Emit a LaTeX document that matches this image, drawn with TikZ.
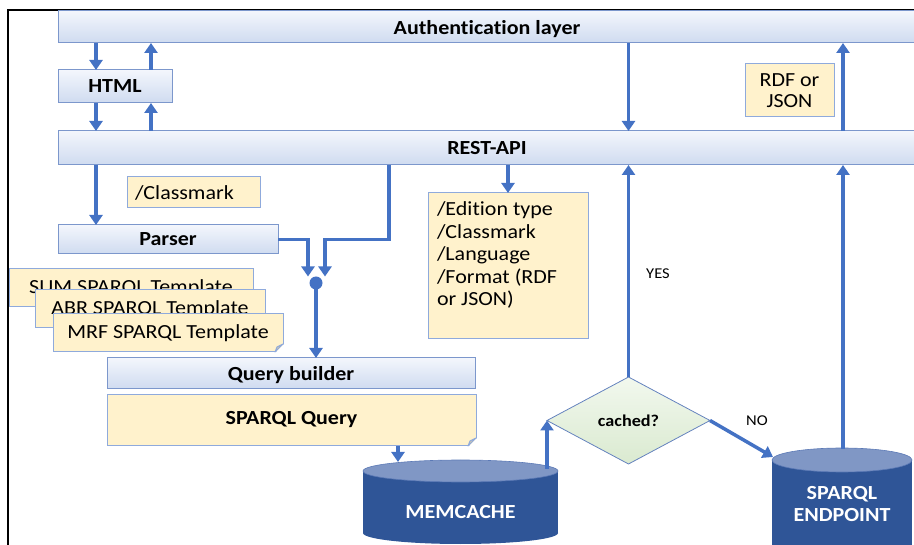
\documentclass[tikz,border=0pt]{standalone}
\usepackage{fontspec}
\setmainfont{Carlito}[FakeStretch=1.1, Ligatures=NoCommon]
\usetikzlibrary{arrows.meta,shapes.geometric,calc}

\definecolor{flowblue}{RGB}{68,114,196}
\definecolor{barborder}{RGB}{124,151,204}
\definecolor{bartop}{RGB}{243,246,252}
\definecolor{barbottom}{RGB}{207,219,240}
\definecolor{notefill}{RGB}{255,242,204}
\definecolor{noteborder}{RGB}{143,170,220}
\definecolor{foldfill}{RGB}{214,202,168}
\definecolor{dbbody}{RGB}{47,85,151}
\definecolor{dbtop}{RGB}{128,151,197}
\definecolor{dbedge}{RGB}{92,122,182}
\definecolor{decisiontop}{RGB}{242,248,238}
\definecolor{decisionbottom}{RGB}{218,234,208}
\definecolor{decisionedge}{RGB}{100,130,190}

% folded lower right corner of a note
\newcommand\notefold[1]{%
  \fill[white] ([xshift=-8pt,yshift=-1pt]#1.south east) -- ([xshift=1pt,yshift=-1pt]#1.south east)
    -- ([xshift=1pt,yshift=8pt]#1.south east) -- cycle;
  \filldraw[fill=foldfill, draw=noteborder, line width=1pt, line join=round]
    ([xshift=-8pt]#1.south east) -- ([yshift=8pt]#1.south east)
    -- ([xshift=-6pt,yshift=5pt]#1.south east) -- cycle;
}

\begin{document}
\begin{tikzpicture}[x=1pt,y=-1pt,
  every node/.style={inner sep=0pt, outer sep=0pt},
  layer/.style={rectangle, draw=barborder, line width=1pt, top color=bartop,
    bottom color=barbottom, text depth=0pt, font=\fontsize{20}{24}\selectfont\bfseries},
  note/.style={rectangle, draw=noteborder, line width=1pt, fill=notefill,
    font=\fontsize{20}{24}\selectfont},
  flow/.style={draw=flowblue, line width=3.5pt, -{Triangle[width=13pt,length=10pt]}},
  smalllabel/.style={font=\fontsize{15}{18}\selectfont},
  dbtext/.style={text=white, align=center, font=\fontsize{20}{22}\selectfont\bfseries},
]
\useasboundingbox (0,0) rectangle (914,545);

% frame
\draw[line width=2pt] (8,545) -- (8,10) -- (914,10);

% layers
\node[layer, minimum width=858pt, minimum height=32pt] (auth) at (487,27) {Authentication layer};
\node[layer, minimum width=114pt, minimum height=33pt] (html) at (115,86.5) {HTML};
\node[layer, minimum width=858pt, minimum height=34pt] (rest) at (487,148) {REST-API};
\node[note, minimum width=89pt, minimum height=53pt, align=center,
  font=\fontsize{20}{21}\selectfont] (rdf) at (789.5,90.5) {RDF or\\JSON};

\node[note, minimum height=31pt, text width=117pt, inner xsep=8pt, align=left]
  (classmark) at (193.5,192.5) {/Classmark};
\node[layer, minimum width=220pt, minimum height=29pt] (parser) at (168,239.5) {Parser};

\node[note, minimum width=160pt, minimum height=146pt,
  label={[anchor=north west, align=left, xshift=9pt, yshift=-9pt,
    font=\fontsize{20}{22.5}\selectfont]north west:{/Edition type\\/Classmark\\/Language\\/Format (RDF\\or JSON)}}]
  (params) at (508,266) {};

% templates
\node[note, minimum width=244pt, minimum height=38pt] (sum) at (131,288) {\raisebox{3pt}{SUM SPARQL Template}};
\notefold{sum}
\node[note, minimum width=230pt, minimum height=38pt] (abr) at (150,309) {\raisebox{2pt}{ABR SPARQL Template}};
\notefold{abr}
\node[note, minimum width=230pt, minimum height=38pt] (mrf) at (168,333) {\raisebox{2pt}{MRF SPARQL Template}};
\notefold{mrf}

\node[circle, fill=flowblue, minimum size=13pt] (junction) at (316,283) {};

\node[layer, minimum width=368pt, minimum height=31pt] (qb) at (291,373.5) {Query builder};
\node[note, minimum width=369pt, minimum height=51pt, font=\fontsize{20}{24}\selectfont\bfseries]
  (sq) at (291.5,420.5) {\raisebox{5pt}{SPARQL Query}};
\notefold{sq}

% decision
\node[diamond, draw=decisionedge, line width=0.8pt, top color=decisiontop, bottom color=decisionbottom,
  minimum width=163pt, minimum height=87pt, font=\fontsize{16.5}{18}\selectfont\bfseries]
  (cached) at (628.5,420.5) {cached?};

% MEMCACHE cylinder
\fill[dbbody] (363,471) rectangle (558,533);
\fill[dbbody] (460.5,533) ellipse[x radius=97.5pt, y radius=11pt];
\filldraw[fill=dbtop, draw=dbedge, line width=0.6pt] (460.5,471) ellipse[x radius=97.5pt, y radius=11pt];
\node[dbtext] (memcache) at (460.5,512) {MEMCACHE};

% SPARQL ENDPOINT cylinder
\fill[dbbody] (772,460) rectangle (912,560);
\filldraw[fill=dbtop, draw=dbedge, line width=0.6pt] (842,460) ellipse[x radius=70pt, y radius=12pt];
\node[dbtext] (endpoint) at (842,504) {SPARQL\\ENDPOINT};

% connector ends
\coordinate (laneA) at (96,0);
\coordinate (laneB) at (151,0);
\coordinate (restx) at (389,0);
\coordinate (jl) at ([xshift=-8pt]junction.north);
\coordinate (jr) at ([xshift=9pt]junction.north);
\coordinate (mcin) at (398,462);
\coordinate (mcout) at (547,469);
\coordinate (epin) at (773,457);
\coordinate (epout) at (843,449);

% connectors
\draw[flow] (auth.south -| laneA) -- (html.north -| laneA);
\draw[flow] (html.north -| laneB) -- (auth.south -| laneB);
\draw[flow] (html.south -| laneA) -- (rest.north -| laneA);
\draw[flow] (rest.north -| laneB) -- (html.south -| laneB);
\draw[flow] (auth.south -| cached.north) -- (rest.north -| cached.north);
\draw[flow] (rest.north -| epout) -- (auth.south -| epout);
\draw[flow] (rest.south -| laneA) -- (parser.north -| laneA);
\draw[flow] (rest.south -| params.north) -- (params.north);
\draw[flow] (rest.south -| restx) |- (jr |- parser.east) -- (jr);
\draw[flow] (parser.east) -| (jl);
\draw[flow] (junction) -- (qb.north -| junction);
\draw[flow] (sq.south -| mcin) -- (mcin);
\draw[flow] (mcout) -- (cached.west);
\draw[flow] (cached.east) -- (epin);
\draw[flow] (cached.north) -- (rest.south -| cached.north);
\draw[flow] (epout) -- (rest.south -| epout);

\node[smalllabel] (yes) at (658,274) {YES};
\node[smalllabel] (no) at (757,421) {NO};
\end{tikzpicture}
\end{document}
